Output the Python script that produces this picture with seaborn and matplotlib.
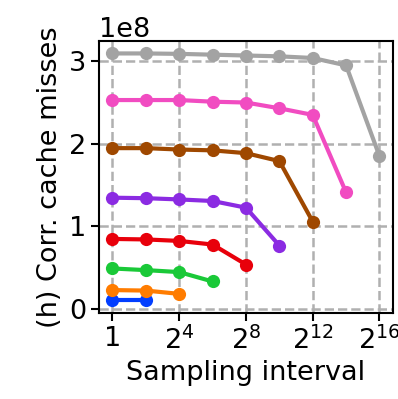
import numpy as np
import pandas as pd
import matplotlib
matplotlib.use("Agg")
import matplotlib.pyplot as plt
import seaborn as sns

# Sampling intervals (powers of two) and corrected cache misses per configuration
intervals = [2**0, 2**2, 2**4, 2**6, 2**8, 2**10, 2**12, 2**14, 2**16]
s1 = [0.10e8, 0.10e8]
s2 = [0.226e8, 0.22e8, 0.18e8]
s3 = [0.488e8, 0.468e8, 0.444e8, 0.33e8]
s4 = [0.846e8, 0.84e8, 0.822e8, 0.778e8, 0.536e8]
s5 = [1.346e8, 1.34e8, 1.325e8, 1.306e8, 1.225e8, 0.766e8]
s6 = [1.947e8, 1.947e8, 1.93e8, 1.92e8, 1.886e8, 1.79e8, 1.056e8]
s7 = [2.53e8, 2.53e8, 2.53e8, 2.51e8, 2.50e8, 2.43e8, 2.35e8, 1.41e8]
s8 = [3.095e8, 3.095e8, 3.09e8, 3.08e8, 3.07e8, 3.06e8, 3.04e8, 2.95e8, 1.85e8]
series = [s1, s2, s3, s4, s5, s6, s7, s8]

xticks = [2**0, 2**4, 2**8, 2**12, 2**16]
xticklabels = ["1", "$2^{4}$", "$2^{8}$", "$2^{12}$", "$2^{16}$"]

rows = []
for i, vals in enumerate(series):
    for x, y in zip(intervals, vals):
        rows.append({"series": i, "interval": x, "misses": y})
df = pd.DataFrame(rows)

sns.set_style("ticks", {"axes.edgecolor": "black", "text.color": "black",
                        "axes.labelcolor": "black", "xtick.color": "black",
                        "ytick.color": "black"})
plt.rcParams["font.family"] = ["DejaVu Sans"]
palette = sns.color_palette("bright", 8)

fig, ax = plt.subplots(figsize=(3.98, 3.99), dpi=100)
sns.lineplot(data=df, x="interval", y="misses", hue="series", palette=palette,
             marker="o", markersize=9.5, markeredgewidth=0, linewidth=3,
             legend=False, ax=ax)
ax.set_xscale("log", base=2)
ax.set_xticks(xticks)
ax.set_xticklabels(xticklabels)
ax.minorticks_off()
ax.set_yticks([0, 1e8, 2e8, 3e8])
ax.grid(True, linestyle="--", color="#b0b0b0", linewidth=1.8)
ax.set_axisbelow(True)
fs = 19.5
ax.set_xlabel("Sampling interval", fontsize=fs)
ax.set_ylabel("(h) Corr. cache misses", fontsize=fs)
ax.tick_params(labelsize=fs, width=1.5, length=6, color="black")
ax.yaxis.get_offset_text().set_fontsize(fs)
for sp in ax.spines.values():
    sp.set_linewidth(1.5)
    sp.set_color("black")
    sp.set_visible(True)

fig.subplots_adjust(left=0.249, right=0.987, top=0.897, bottom=0.216)
fig.savefig("out.png", dpi=100)
